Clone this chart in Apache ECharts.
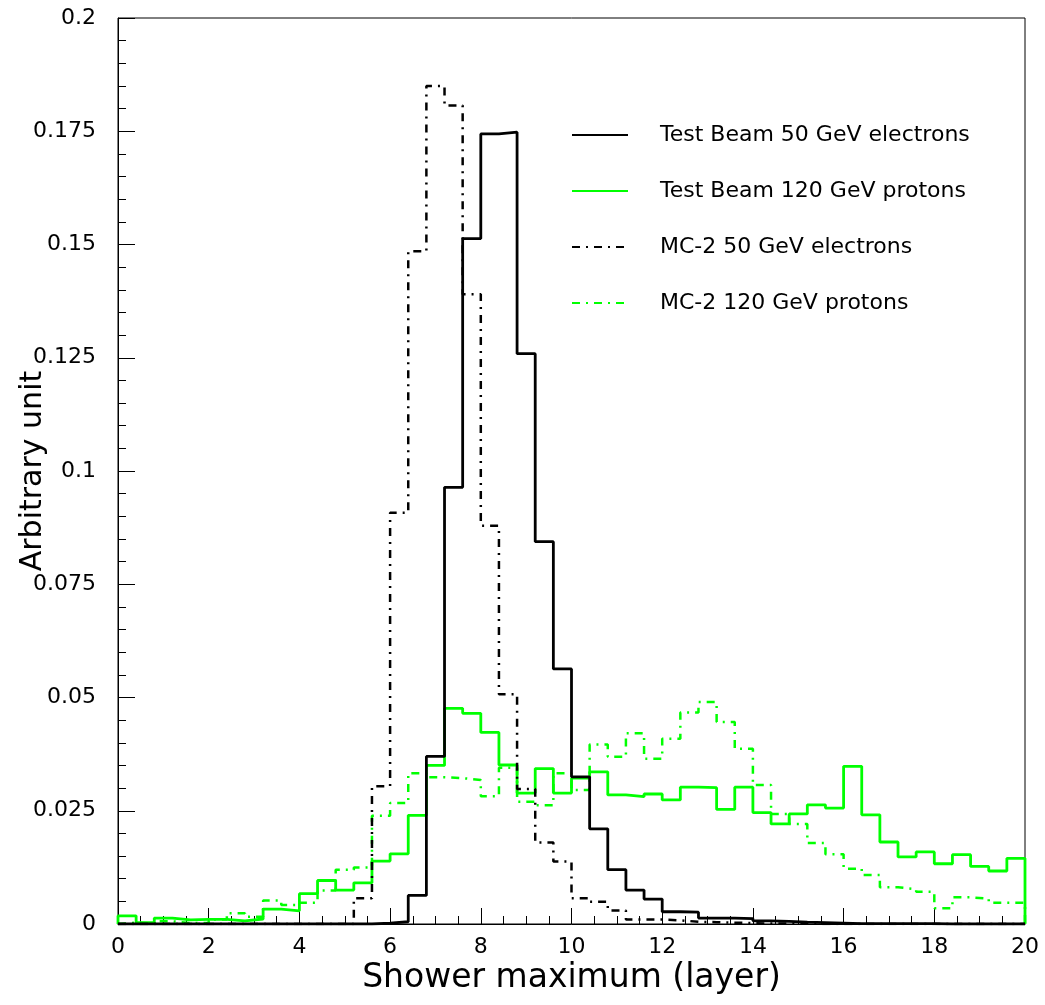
<!DOCTYPE html>
<html>
<head>
<meta charset="utf-8">
<script src="https://cdn.jsdelivr.net/npm/echarts@6/dist/echarts.min.js"></script>
<style>
html,body{margin:0;padding:0;background:#fff;}
#chart{width:1045px;height:1005px;}
</style>
</head>
<body>
<div id="chart"></div>
<script>
// Histogram binning: 50 bins of width 0.4 from 0 to 20 (shower maximum layer)
const binStart = 0;
const binWidth = 0.4;

// Test Beam 50 GeV electrons (black solid)
const tbElectrons = [
  0, 0, 0, 0, 0, 0, 0, 0, 0, 0,
  0, 0, 0, 0, 0.0002, 0.0005, 0.0063, 0.037, 0.0964, 0.1513,
  0.1744, 0.1748, 0.1259, 0.0844, 0.0563, 0.0325, 0.021, 0.012, 0.0075, 0.0055,
  0.0027, 0.0026, 0.0013, 0.0013, 0.0012, 0.0007, 0.0006, 0.0004, 0.0003, 0.0002,
  0.0001, 0.0001, 0.0001, 0.0001, 0.0001, 0, 0, 0, 0, 0
];

// Test Beam 120 GeV protons (green solid)
const tbProtons = [
  0.0018, 0.0003, 0.0013, 0.0009, 0.001, 0.001, 0.0007, 0.0011, 0.0033, 0.0029,
  0.0067, 0.0096, 0.0075, 0.0091, 0.0139, 0.0155, 0.024, 0.035, 0.0476, 0.0465,
  0.0423, 0.0351, 0.0289, 0.0343, 0.0289, 0.0322, 0.0336, 0.0285, 0.0281, 0.0287,
  0.0274, 0.0302, 0.0301, 0.0253, 0.0302, 0.0246, 0.0221, 0.0243, 0.0263, 0.0256,
  0.0348, 0.0241, 0.0181, 0.0148, 0.0159, 0.0133, 0.0153, 0.0127, 0.0117, 0.0145
];

// MC-2 50 GeV electrons (black dash-dot)
const mcElectrons = [
  0, 0, 0, 0, 0, 0, 0, 0, 0, 0,
  0, 0, 0, 0.0057, 0.0304, 0.0908, 0.1485, 0.185, 0.1807, 0.139,
  0.0879, 0.0507, 0.0298, 0.018, 0.0138, 0.0057, 0.0049, 0.003, 0.001, 0.001,
  0.0008, 0.0005, 0.0004, 0.0003, 0.0002, 0.0001, 0.0001, 0.0001, 0, 0,
  0, 0, 0, 0, 0, 0, 0, 0, 0, 0
];

// MC-2 120 GeV protons (green dash-dot)
const mcProtons = [
  0.0003, 0.0001, 0.0006, 0.0002, 0.0002, 0.001, 0.0024, 0.0016, 0.0052, 0.0042,
  0.0047, 0.0074, 0.012, 0.0125, 0.0239, 0.0267, 0.0333, 0.0324, 0.0322, 0.0318,
  0.0282, 0.0345, 0.027, 0.0262, 0.0333, 0.0296, 0.0396, 0.0369, 0.0421, 0.0365,
  0.0409, 0.0467, 0.049, 0.0446, 0.0387, 0.0307, 0.0243, 0.0221, 0.0179, 0.0154,
  0.0122, 0.0108, 0.0081, 0.0077, 0.0071, 0.0035, 0.0059, 0.0056, 0.0047, 0.0047
];

const seriesNames = [
  'Test Beam 50 GeV electrons',
  'Test Beam 120 GeV protons',
  'MC-2 50 GeV electrons',
  'MC-2 120 GeV protons'
];

const yTickLabels = ['0', '0.025', '0.05', '0.075', '0.1', '0.125', '0.15', '0.175', '0.2'];
const xTickLabels = ['0', '2', '4', '6', '8', '10', '12', '14', '16', '18', '20'];

// Build closed histogram outline points (step 'end')
function histPoints(vals) {
  const pts = [[binStart, 0]];
  for (let i = 0; i < vals.length; i++) {
    pts.push([+(binStart + i * binWidth).toFixed(4), vals[i]]);
  }
  const xEnd = +(binStart + vals.length * binWidth).toFixed(4);
  pts.push([xEnd, vals[vals.length - 1]]);
  pts.push([xEnd, 0]);
  return pts;
}

const FONT = 'DejaVu Sans';
const dashDot = [8, 6, 2, 6];

const chart = echarts.init(document.getElementById('chart'), null, {renderer: 'canvas'});

function mkSeries(name, vals, color, dashed) {
  return {
    name: name,
    type: 'line',
    step: 'end',
    symbol: 'none',
    data: histPoints(vals),
    lineStyle: {color: color, width: dashed ? 2.5 : 2.8, type: dashed ? dashDot : 'solid'},
    itemStyle: {color: color},
    emphasis: {disabled: true},
    z: 3
  };
}

chart.setOption({
  animation: false,
  backgroundColor: '#fff',
  grid: {left: 118, right: 20, top: 18, bottom: 81, show: true, borderColor: '#000', borderWidth: 1,
         containLabel: false, outerBoundsMode: 'none'},
  legend: {
    orient: 'vertical',
    left: 566,
    top: 119,
    itemWidth: 56,
    itemHeight: 14,
    itemGap: 34,
    itemStyle: {opacity: 0},
    textStyle: {fontFamily: FONT, fontSize: 22, color: '#000', padding: [0, 0, 0, 27]},
    data: seriesNames
  },
  xAxis: {
    type: 'value',
    min: 0,
    max: 20,
    interval: 2,
    name: 'Shower maximum (layer)',
    nameLocation: 'middle',
    nameGap: 38,
    nameMoveOverlap: false,
    nameTextStyle: {fontFamily: FONT, fontSize: 33, color: '#000'},
    axisLine: {show: true, lineStyle: {color: '#000', width: 1}},
    axisTick: {show: true, inside: true, length: 16, lineStyle: {color: '#000'}},
    minorTick: {show: true, splitNumber: 4, length: 8, lineStyle: {color: '#000'}},
    splitLine: {show: false},
    axisLabel: {
      fontFamily: FONT, fontSize: 22, color: '#000', margin: 12,
      formatter: function (v) { return xTickLabels[Math.round(v / 2)]; }
    }
  },
  yAxis: {
    type: 'value',
    min: 0,
    max: 0.2,
    interval: 0.025,
    name: 'Arbitrary unit',
    nameLocation: 'middle',
    nameGap: 70,
    nameRotate: 90,
    nameMoveOverlap: false,
    nameTextStyle: {fontFamily: FONT, fontSize: 30, color: '#000'},
    axisLine: {show: true, lineStyle: {color: '#000', width: 1}},
    axisTick: {show: true, inside: true, length: 17, lineStyle: {color: '#000'}},
    minorTick: {show: true, splitNumber: 5, length: 8, lineStyle: {color: '#000'}},
    splitLine: {show: false},
    axisLabel: {
      fontFamily: FONT, fontSize: 22, color: '#000', margin: 22,
      formatter: function (v) { return yTickLabels[Math.round(v / 0.025)]; }
    }
  },
  series: [
    mkSeries(seriesNames[1], tbProtons, '#00ff00', false),
    mkSeries(seriesNames[3], mcProtons, '#00ff00', true),
    mkSeries(seriesNames[0], tbElectrons, '#000000', false),
    mkSeries(seriesNames[2], mcElectrons, '#000000', true)
  ]
});
</script>
</body>
</html>
